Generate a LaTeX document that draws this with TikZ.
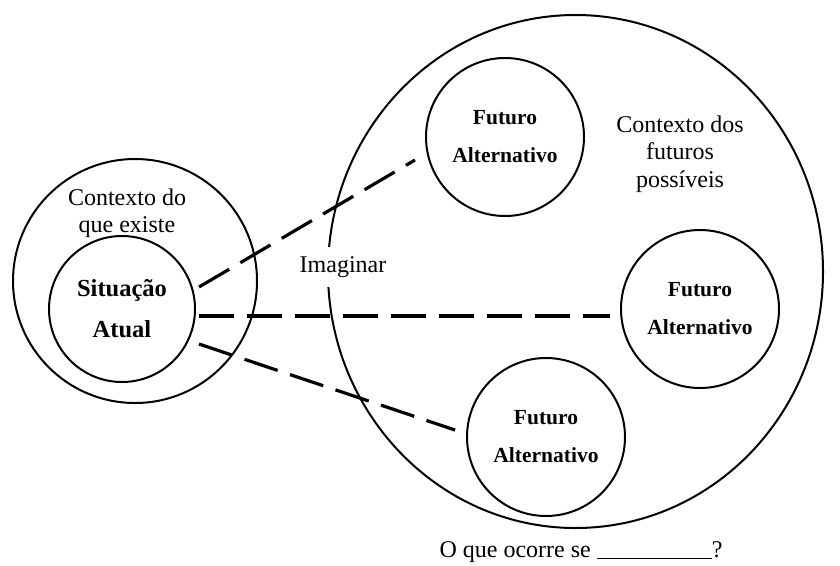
\documentclass[tikz,border=0pt]{standalone}
\usepackage{fontspec}
\setmainfont{Liberation Serif}
\usetikzlibrary{shapes.geometric}
\begin{document}
\begin{tikzpicture}[x=1pt,y=-1pt,
  ring/.style={draw, circle, line width=2pt, inner sep=0pt},
  plain/.style={font=\fontsize{24}{27}\selectfont, align=center, inner sep=0pt},
  nowbox/.style={ring, minimum size=146pt,
    font=\fontsize{24.5}{41}\selectfont\bfseries, align=center},
  futbox/.style={ring, minimum size=158pt,
    font=\fontsize{21.5}{38}\selectfont\bfseries, align=center},
  link/.style={line width=3.2pt, dash pattern=on 35pt off 13pt}
]
\useasboundingbox (0,0) rectangle (840,565);

% context of what exists, with the present situation inside
\node[ring, minimum size=244pt] (ctx) at (135,281) {};
\node[plain] (ctxlbl) at (127,213) {Contexto do\\que existe};
\node[nowbox] (sit) at (122,309) {Situação\\Atual};

% context of possible futures
\node[draw, ellipse, line width=2pt, minimum width=495pt, minimum height=513pt,
      inner sep=0pt] (fut) at (575.5,271.5) {};
\node[plain, font=\fontsize{24}{27.5}\selectfont] (futlbl) at (680,154)
  {Contexto dos\\futuros\\possíveis};

\node[futbox] (f1) at (505,137) {Futuro\\Alternativo};
\node[futbox] (f2) at (700,309) {Futuro\\Alternativo};
\node[futbox] (f3) at (546,437) {Futuro\\Alternativo};

% label that interrupts the outline of the futures context
\node[plain, fill=white, inner ysep=9pt, inner xsep=2pt] (imag) at (343,267) {Imaginar};

% dashed links from the present situation towards each future
\coordinate (s1) at (199,287);
\coordinate (s2) at (199,316);
\coordinate (s3) at (199,344);
\coordinate (e1) at (415,160);
\coordinate (e2) at (610,316);
\coordinate (e3) at (455,430);
\draw[link] (s1) -- (e1);
\draw[link] (s2) -- (e2);
\draw[link] (s3) -- (e3);

\node[plain, anchor=base] (ask) at (581,557)
  {O que ocorre se \rule[-2pt]{115pt}{1pt}?};
\end{tikzpicture}
\end{document}
